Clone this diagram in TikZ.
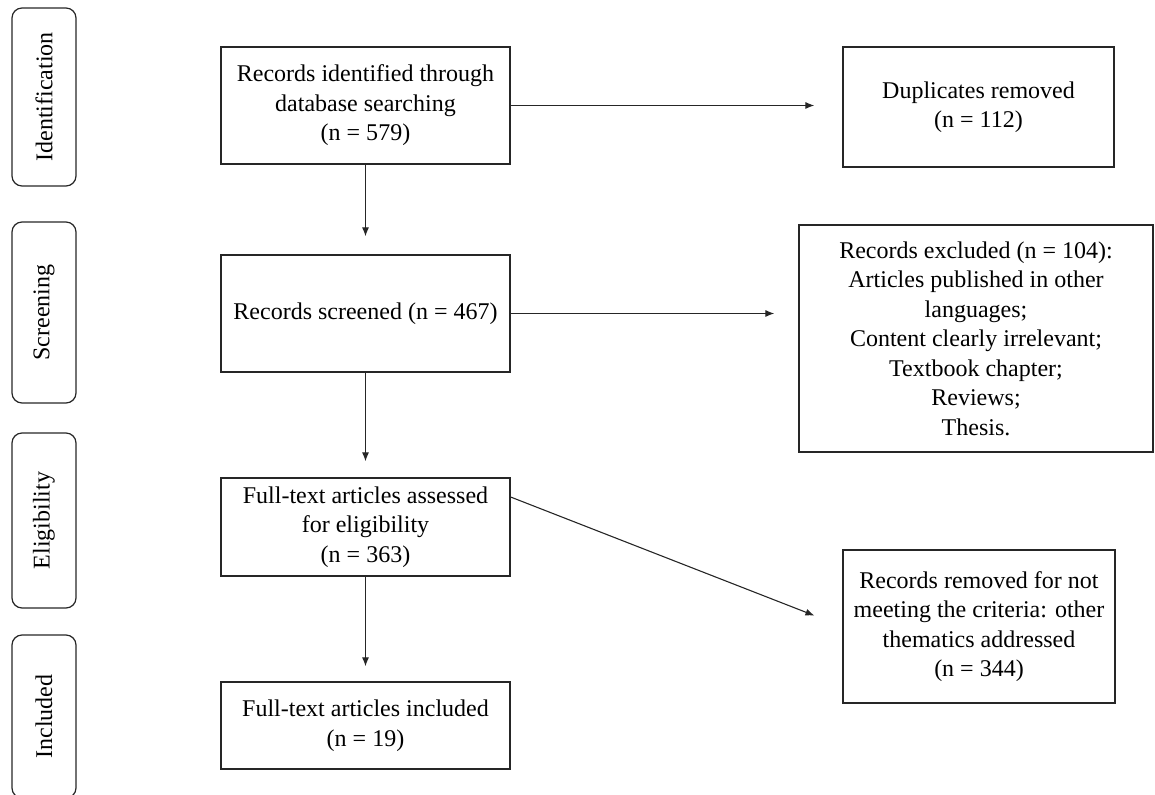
\documentclass[tikz,border=0pt]{standalone}
\usepackage{fontspec}
\setmainfont{Liberation Serif}
\usetikzlibrary{arrows.meta}
\tikzstyle{flowBox}=[draw=black!85, line width=0.6pt, align=center, inner sep=0pt, font=\fontsize{12pt}{14.75pt}\selectfont]
\tikzstyle{phaseBox}=[draw=black!85, line width=0.6pt, rounded corners=5pt, rotate=90, inner sep=0pt, font=\fontsize{12pt}{14.75pt}\selectfont]
\tikzstyle{flowArrow}=[-{Latex[length=4.5pt,width=3.5pt]}, line width=0.55pt, black!85]

\begin{document}
\begin{tikzpicture}[x=0.5pt, y=-0.5pt]
        \useasboundingbox (0,0) rectangle (1155,795);

        % Phases
        \node[phaseBox, minimum width=89pt, minimum height=32pt] (identPhase) at (44, 97) {Identification};
        \node[phaseBox, minimum width=90.5pt, minimum height=32pt] (screenPhase) at (44, 312.5) {Screening};
        \node[phaseBox, minimum width=87.5pt, minimum height=32pt] (eligPhase) at (44, 520.5) {Eligibility};
        \node[phaseBox, minimum width=81.5pt, minimum height=32pt] (inclPhase) at (44, 716.5) {Included};

        % Main column
        \node[flowBox, minimum width=144.5pt, minimum height=58.5pt] (records) at (365.5, 105.5) {Records identified through\\database searching\\(n = 579)};
        \node[flowBox, minimum width=144.5pt, minimum height=58.5pt] (screened) at (365.5, 313.5) {Records screened (n = 467)};
        \node[flowBox, minimum width=144.5pt, minimum height=49pt] (assessed) at (365.5, 527) {Full-text articles assessed\\for eligibility\\(n = 363)};
        \node[flowBox, minimum width=144.5pt, minimum height=43.5pt] (included) at (365.5, 725.5) {Full-text articles included\\(n = 19)};

        % Side column
        \node[flowBox, minimum width=135.5pt, minimum height=60pt] (duplicates) at (978.5, 107) {Duplicates removed\\(n = 112)};
        \node[flowBox, minimum width=177pt, minimum height=113.5pt] (excluded) at (976, 338.5) {Records excluded (n = 104):\\Articles published in other\\languages;\\Content clearly irrelevant;\\Textbook chapter;\\Reviews;\\Thesis.};
        \node[flowBox, minimum width=136pt, minimum height=76.5pt] (removed) at (979, 626.5) {Records removed for not\\meeting the criteria: other\\thematics addressed\\(n = 344)};

        \draw[flowArrow, shorten >=9pt] (records) -- (screened);
        \draw[flowArrow, shorten >=8pt] (screened) -- (assessed);
        \draw[flowArrow, shorten >=7.5pt] (assessed) -- (included);

        \draw[flowArrow, shorten >=14pt] (records.east) -- (records.east -| duplicates.west);
        \draw[flowArrow, shorten >=12pt] (screened.east) -- (screened.east -| excluded.west);
        \draw[flowArrow, shorten >=15pt] ([yshift=15pt]assessed.east) -- (removed.west);

    \end{tikzpicture}
\end{document}
